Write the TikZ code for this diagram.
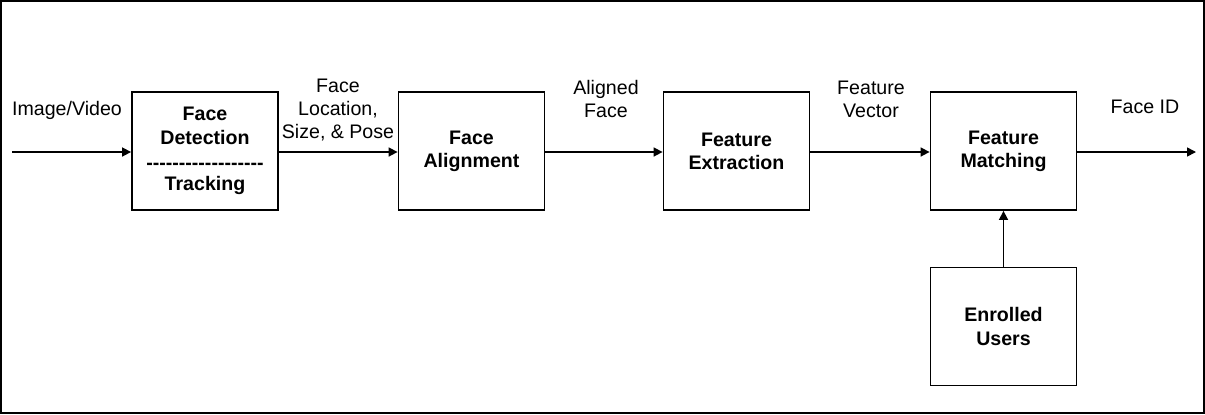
\documentclass[tikz,border=0pt]{standalone}
\usepackage{fontspec}
\setmainfont{Liberation Sans}
\usepackage{tikz}
\usetikzlibrary{positioning,arrows.meta}

\begin{document}
\begin{tikzpicture}[x=0.5pt, y=-0.5pt, >={Triangle[length=4.5pt,width=4.5pt]},
    font=\fontsize{9.8}{11.6}\selectfont,
    stage/.style={draw, line width=0.9pt, minimum width=73pt, minimum height=59pt,
                  align=center, inner sep=0pt, font=\fontsize{9.8}{11.6}\selectfont\bfseries},
    flow/.style={->, line width=0.8pt},
    tag/.style={align=center, inner sep=0pt}]

    % Frame
    \useasboundingbox (0, 0) rectangle (1205, 414);
    \draw[line width=1pt] (1, 1) rectangle (1204, 413);

    % Processing stages
    \node[stage] (detect) at (205, 151) {Face\\Detection\\[1pt]\foreach \k in {1,...,18}{-\kern0pt}\\[-1pt]Tracking};
    \node[stage] (align) at (471.5, 151) {Face\\Alignment};
    \node[stage] (extract) at (736.5, 151) {Feature\\Extraction};
    \node[stage] (match) at (1003.5, 151) {Feature\\Matching};
    \node[stage] (users) at (1003.5, 326.5) {Enrolled\\Users};

    % Input and output ends
    \coordinate (input) at (12, 152);
    \coordinate (output) at (1196, 152);

    % Connectors
    \draw[flow] (input) -- (detect.west |- input);
    \draw[flow] (detect.east |- input) -- (align.west |- input);
    \draw[flow] (align.east |- input) -- (extract.west |- input);
    \draw[flow] (extract.east |- input) -- (match.west |- input);
    \draw[flow] (match.east |- output) -- (output);
    \draw[flow] (users) -- (match);

    % Data labels
    \node[tag] (media) at (67, 110) {Image/Video};
    \node[tag] (pose) at (338, 110) {Face\\Location,\\Size, \& Pose};
    \node[tag] (aligned) at (606, 99) {Aligned\\Face};
    \node[tag] (vector) at (871, 99) {Feature\\Vector};
    \node[tag] (faceid) at (1145, 107) {Face ID};

\end{tikzpicture}
\end{document}
